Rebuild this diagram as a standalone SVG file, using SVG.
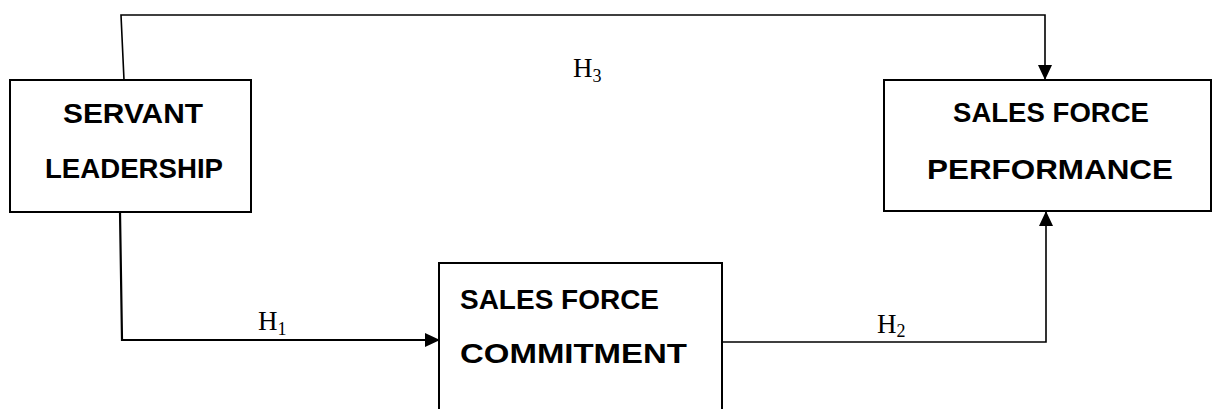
<svg xmlns="http://www.w3.org/2000/svg" width="1213" height="409" viewBox="0 0 1213 409">
  <style>
    .box { fill: #fff; stroke: #000; stroke-width: 2; }
    .lbl { font-family: "Liberation Sans", Arial, sans-serif; font-weight: bold; font-size: 28.5px; fill: #000; }
    .h { font-family: "Liberation Serif", "Times New Roman", serif; font-size: 27px; fill: #000; }
    .sub { font-size: 18px; }
    .wire { fill: none; stroke: #000; stroke-width: 1.6; }
  </style>
  <defs>
    <marker id="arrow" markerUnits="userSpaceOnUse" markerWidth="16" markerHeight="14" refX="15" refY="7" orient="auto">
      <polygon points="0,0 15,7 0,14" fill="#000"/>
    </marker>
  </defs>

  <rect width="1213" height="409" fill="#fff"/>

  <g id="connectors">
    <!-- H3: leadership over the top to performance -->
    <polyline class="wire" points="124,80 121,15 1045,15 1045,80" marker-end="url(#arrow)"/>
    <!-- H1: leadership down and across to commitment -->
    <polyline class="wire" style="stroke-width:2.2" points="120,212 122,340 440,340" marker-end="url(#arrow)"/>
    <!-- H2: commitment across and up to performance -->
    <polyline class="wire" points="722,342 1046,342 1046,211" marker-end="url(#arrow)"/>
    <text class="h" x="573" y="77">H<tspan class="sub" dy="5">3</tspan></text>
    <text class="h" x="258" y="330">H<tspan class="sub" dy="5">1</tspan></text>
    <text class="h" x="877" y="333">H<tspan class="sub" dy="4">2</tspan></text>
  </g>

  <g id="servant-leadership">
    <rect class="box" x="10" y="80" width="241" height="132"/>
    <text class="lbl" x="63" y="123" textLength="140" lengthAdjust="spacingAndGlyphs">SERVANT</text>
    <text class="lbl" x="45" y="178" textLength="178" lengthAdjust="spacingAndGlyphs">LEADERSHIP</text>
  </g>

  <g id="sales-force-performance">
    <rect class="box" x="884" y="80" width="327" height="131"/>
    <text class="lbl" x="953" y="122" textLength="196" lengthAdjust="spacingAndGlyphs">SALES FORCE</text>
    <text class="lbl" x="927" y="179" textLength="246" lengthAdjust="spacingAndGlyphs">PERFORMANCE</text>
  </g>

  <g id="sales-force-commitment">
    <rect class="box" x="439" y="263" width="283" height="160"/>
    <text class="lbl" x="460" y="309" textLength="199" lengthAdjust="spacingAndGlyphs">SALES FORCE</text>
    <text class="lbl" x="460" y="363" textLength="227" lengthAdjust="spacingAndGlyphs">COMMITMENT</text>
  </g>
</svg>
